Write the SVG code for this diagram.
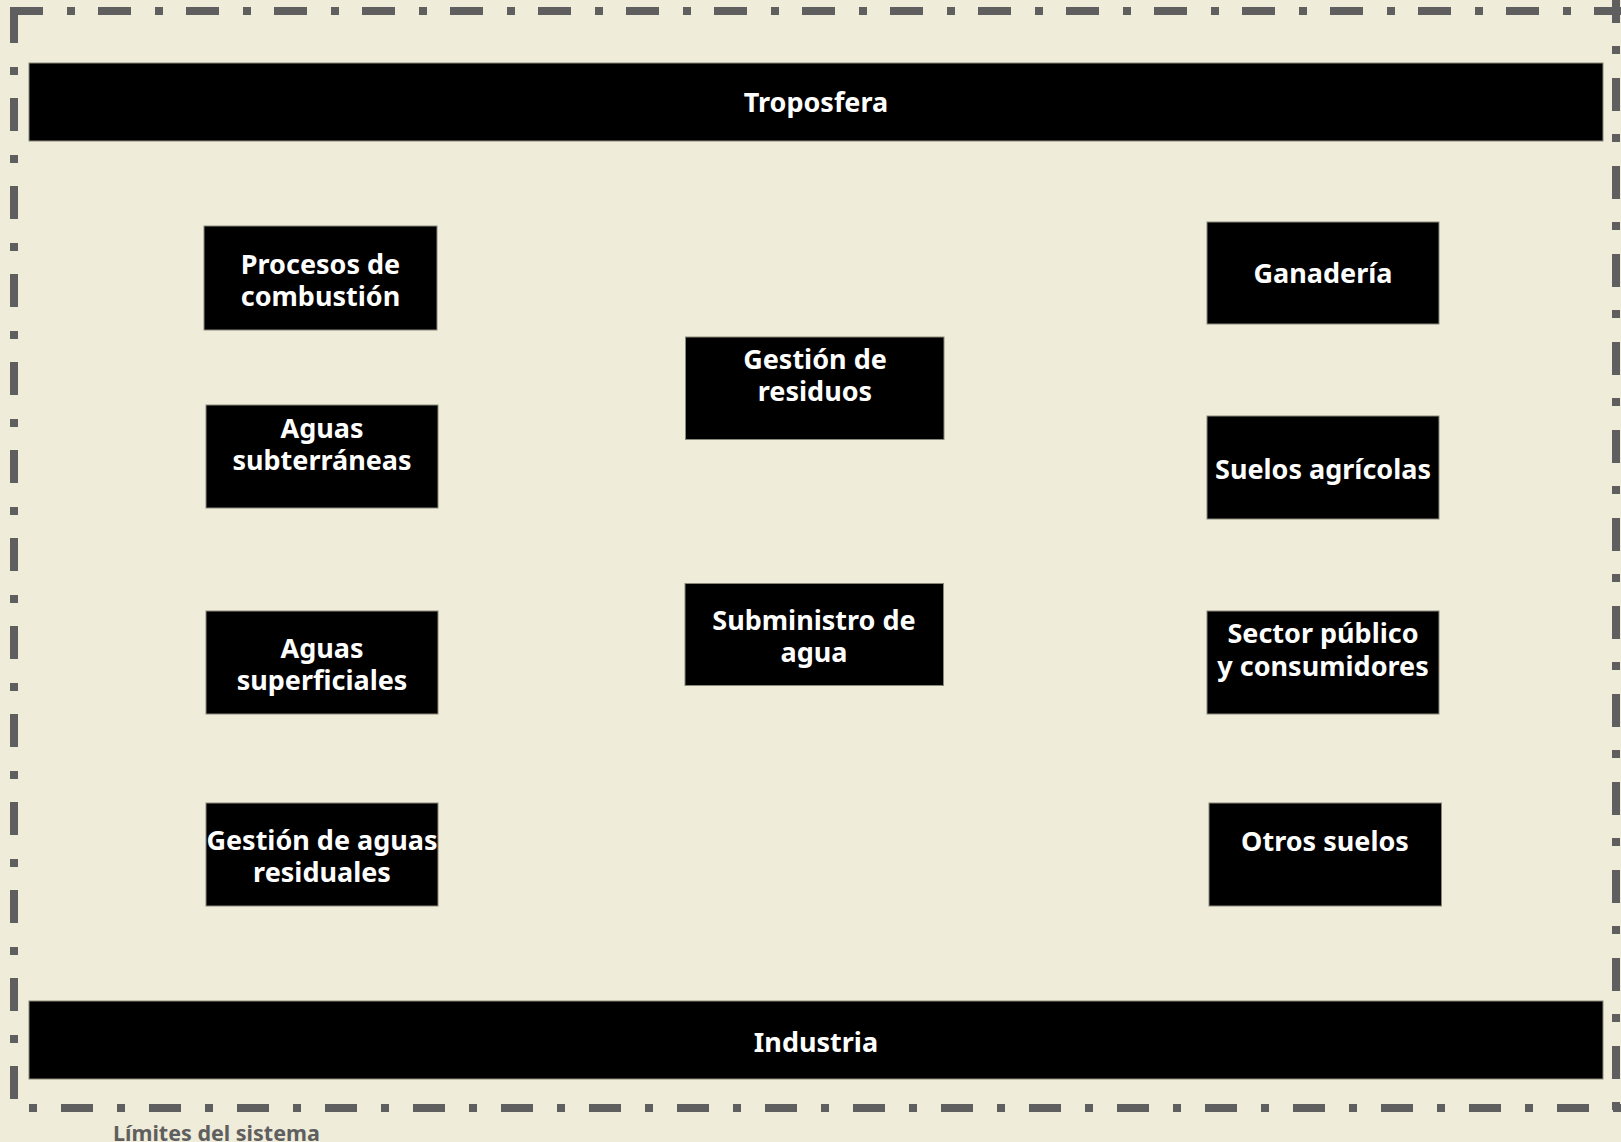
<svg xmlns="http://www.w3.org/2000/svg" width="1621" height="1142" viewBox="0 0 1621 1142">
<defs>
<style>
.bg{fill:#efecda}
.box{fill:#000;stroke:#8a887a;stroke-width:1}
.lbl{font-family:"Noto Sans","Open Sans","DejaVu Sans",sans-serif;font-weight:bold;font-size:27px;fill:#fff;text-anchor:middle}
.frame{stroke:#5f5f5f;stroke-width:8;fill:none}
.cap{font-family:"Noto Sans","Open Sans","DejaVu Sans",sans-serif;font-weight:bold;font-size:21.5px;fill:#5f5f5f}
</style>
</defs>
<rect class="bg" x="0" y="0" width="1621" height="1142"/>
<g id="system-boundary">
<line class="frame" x1="10" y1="11" x2="1621" y2="11" stroke-dasharray="33 24 8 23"/>
<line class="frame" x1="14" y1="10" x2="14" y2="1099" stroke-dasharray="33 24 8 23"/>
<line class="frame" x1="29" y1="1108" x2="1621" y2="1108" stroke-dasharray="8 24 32 24"/>
<line class="frame" x1="1616" y1="-10" x2="1616" y2="1111" stroke-dasharray="33 23 8 24"/>
<text class="cap" x="113" y="1141">Límites del sistema</text>
</g>
<g id="connectors"></g>
<g id="troposfera">
<rect class="box" x="29" y="63" width="1574" height="78"/>
<text class="lbl" x="816" y="112">Troposfera</text>
</g>
<g id="industria">
<rect class="box" x="29" y="1001" width="1574" height="78"/>
<text class="lbl" x="816" y="1052">Industria</text>
</g>
<g id="procesos-combustion">
<rect class="box" x="204" y="226" width="233" height="104"/>
<text class="lbl" x="320.5" y="273.5">Procesos de</text>
<text class="lbl" x="320.5" y="306">combustión</text>
</g>
<g id="aguas-subterraneas">
<rect class="box" x="206" y="405" width="232" height="103"/>
<text class="lbl" x="322" y="437.5">Aguas</text>
<text class="lbl" x="322" y="470">subterráneas</text>
</g>
<g id="aguas-superficiales">
<rect class="box" x="206" y="611" width="232" height="103"/>
<text class="lbl" x="322" y="658">Aguas</text>
<text class="lbl" x="322" y="689.5">superficiales</text>
</g>
<g id="gestion-aguas-residuales">
<rect class="box" x="206" y="803" width="232" height="103"/>
<text class="lbl" x="322" y="850">Gestión de aguas</text>
<text class="lbl" x="322" y="882">residuales</text>
</g>
<g id="gestion-residuos">
<rect class="box" x="685.5" y="337" width="258.5" height="102.5"/>
<text class="lbl" x="815" y="368.5">Gestión de</text>
<text class="lbl" x="815" y="400.5">residuos</text>
</g>
<g id="subministro-agua">
<rect class="box" x="685" y="583.5" width="258.5" height="102"/>
<text class="lbl" x="814" y="630">Subministro de</text>
<text class="lbl" x="814" y="662">agua</text>
</g>
<g id="ganaderia">
<rect class="box" x="1207" y="222" width="232" height="102"/>
<text class="lbl" x="1323" y="282.5">Ganadería</text>
</g>
<g id="suelos-agricolas">
<rect class="box" x="1207" y="416" width="232" height="103"/>
<text class="lbl" x="1323" y="479">Suelos agrícolas</text>
</g>
<g id="sector-publico">
<rect class="box" x="1207" y="611" width="232" height="103"/>
<text class="lbl" x="1323" y="643">Sector público</text>
<text class="lbl" x="1323" y="675.5">y consumidores</text>
</g>
<g id="otros-suelos">
<rect class="box" x="1209" y="803" width="232.5" height="103"/>
<text class="lbl" x="1325" y="851">Otros suelos</text>
</g>
</svg>
